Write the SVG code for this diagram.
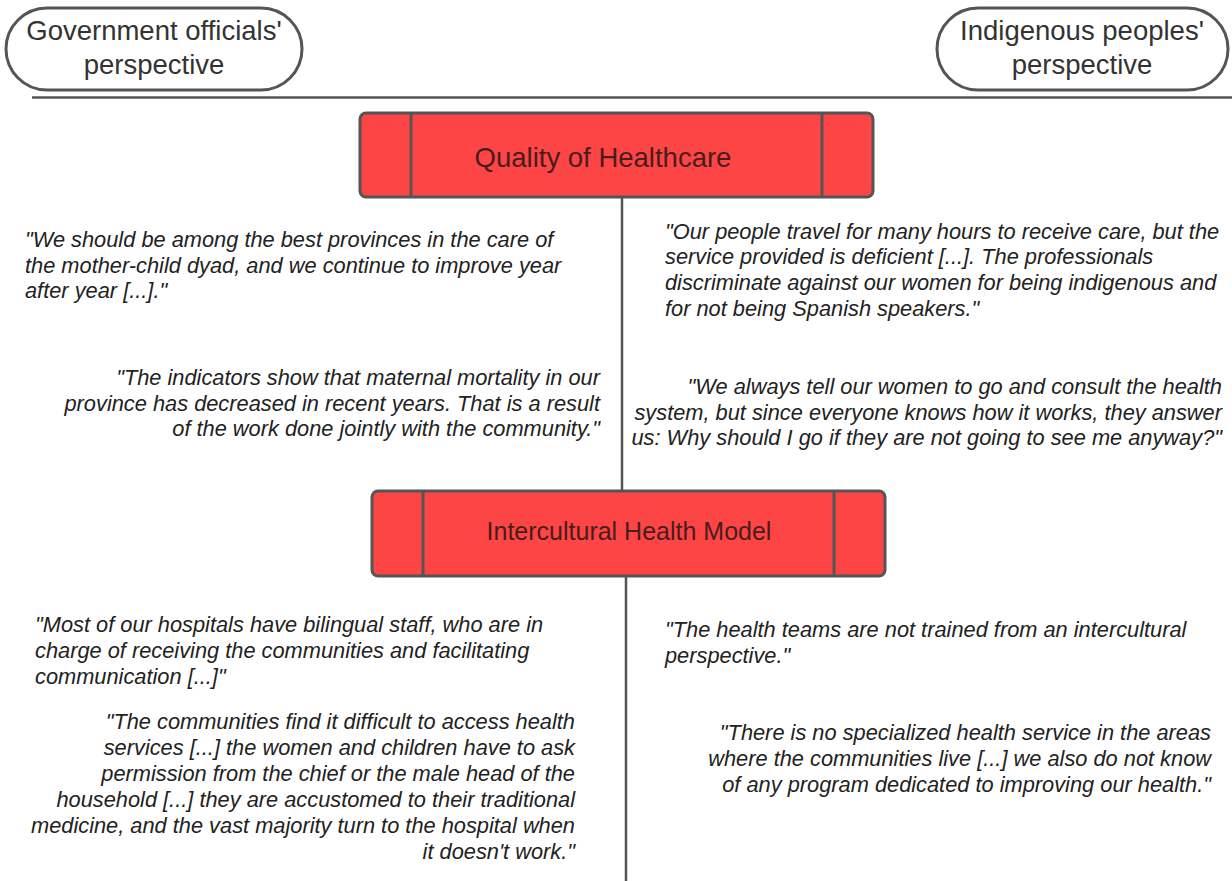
<svg xmlns="http://www.w3.org/2000/svg" width="1232" height="881" viewBox="0 0 1232 881">
<style>
.pill{fill:#fff;stroke:#555;stroke-width:3}
.hdr{font-family:"Liberation Sans",Arial,sans-serif;font-size:27.5px;fill:#333;text-anchor:middle}
.box{fill:#fd4545;stroke:#555;stroke-width:3}
.div{stroke:#555;stroke-width:3;fill:none}
.ttl{font-family:"Liberation Sans",Arial,sans-serif;fill:#4a1c1c;text-anchor:middle}
.q{font-family:"Liberation Sans",Arial,sans-serif;font-size:21.8px;font-style:italic;fill:#222}
.r{text-anchor:end}
.ln{stroke:#555;stroke-width:2.5;fill:none}
</style>
<rect width="1232" height="881" fill="#fff"/>
<g id="gov-header">
<rect class="pill" x="6" y="8" width="296" height="82" rx="41"/>
<text class="hdr" x="154" y="40">Government officials'</text>
<text class="hdr" x="154" y="74">perspective</text>
</g>
<g id="ind-header">
<rect class="pill" x="937" y="8" width="291" height="82" rx="41"/>
<text class="hdr" x="1082" y="40">Indigenous peoples'</text>
<text class="hdr" x="1082" y="74">perspective</text>
</g>
<g id="connectors">
<line class="ln" x1="32" y1="97.5" x2="1232" y2="97.5"/>
<line class="ln" x1="622" y1="197" x2="622" y2="490"/>
<line class="ln" x1="626" y1="576" x2="626" y2="881"/>
</g>
<g id="quality">
<rect class="box" x="360" y="113" width="513" height="84" rx="6"/>
<line class="div" x1="411" y1="113" x2="411" y2="197"/>
<line class="div" x1="822" y1="113" x2="822" y2="197"/>
<text class="ttl" x="603" y="167" font-size="27.5">Quality of Healthcare</text>
</g>
<g id="intercultural">
<rect class="box" x="372" y="491" width="513" height="85" rx="6"/>
<line class="div" x1="423" y1="491" x2="423" y2="576"/>
<line class="div" x1="834" y1="491" x2="834" y2="576"/>
<text class="ttl" x="629" y="540" font-size="25">Intercultural Health Model</text>
</g>
<g id="q1">
<text class="q" x="25" y="247">"We should be among the best provinces in the care of</text>
<text class="q" x="25" y="273">the mother-child dyad, and we continue to improve year</text>
<text class="q" x="25" y="298">after year [...]."</text>
</g>
<g id="q2">
<text class="q" x="665" y="239">"Our people travel for many hours to receive care, but the</text>
<text class="q" x="665" y="264">service provided is deficient [...]. The professionals</text>
<text class="q" x="665" y="290">discriminate against our women for being indigenous and</text>
<text class="q" x="665" y="316">for not being Spanish speakers."</text>
</g>
<g id="q3">
<text class="q r" x="600" y="385">"The indicators show that maternal mortality in our</text>
<text class="q r" x="600" y="411">province has decreased in recent years. That is a result</text>
<text class="q r" x="600" y="436">of the work done jointly with the community."</text>
</g>
<g id="q4">
<text class="q r" x="1222" y="394">"We always tell our women to go and consult the health</text>
<text class="q r" x="1222" y="420">system, but since everyone knows how it works, they answer</text>
<text class="q r" x="1222" y="445">us: Why should I go if they are not going to see me anyway?"</text>
</g>
<g id="q5">
<text class="q" x="35" y="632">"Most of our hospitals have bilingual staff, who are in</text>
<text class="q" x="35" y="658">charge of receiving the communities and facilitating</text>
<text class="q" x="35" y="684">communication [...]"</text>
</g>
<g id="q6">
<text class="q r" x="575" y="729">"The communities find it difficult to access health</text>
<text class="q r" x="575" y="755">services [...] the women and children have to ask</text>
<text class="q r" x="575" y="781">permission from the chief or the male head of the</text>
<text class="q r" x="575" y="807">household [...] they are accustomed to their traditional</text>
<text class="q r" x="575" y="833">medicine, and the vast majority turn to the hospital when</text>
<text class="q r" x="575" y="859">it doesn't work."</text>
</g>
<g id="q7">
<text class="q" x="665" y="637">"The health teams are not trained from an intercultural</text>
<text class="q" x="665" y="663">perspective."</text>
</g>
<g id="q8">
<text class="q r" x="1211" y="740">"There is no specialized health service in the areas</text>
<text class="q r" x="1211" y="766">where the communities live [...] we also do not know</text>
<text class="q r" x="1211" y="792">of any program dedicated to improving our health."</text>
</g>
</svg>
